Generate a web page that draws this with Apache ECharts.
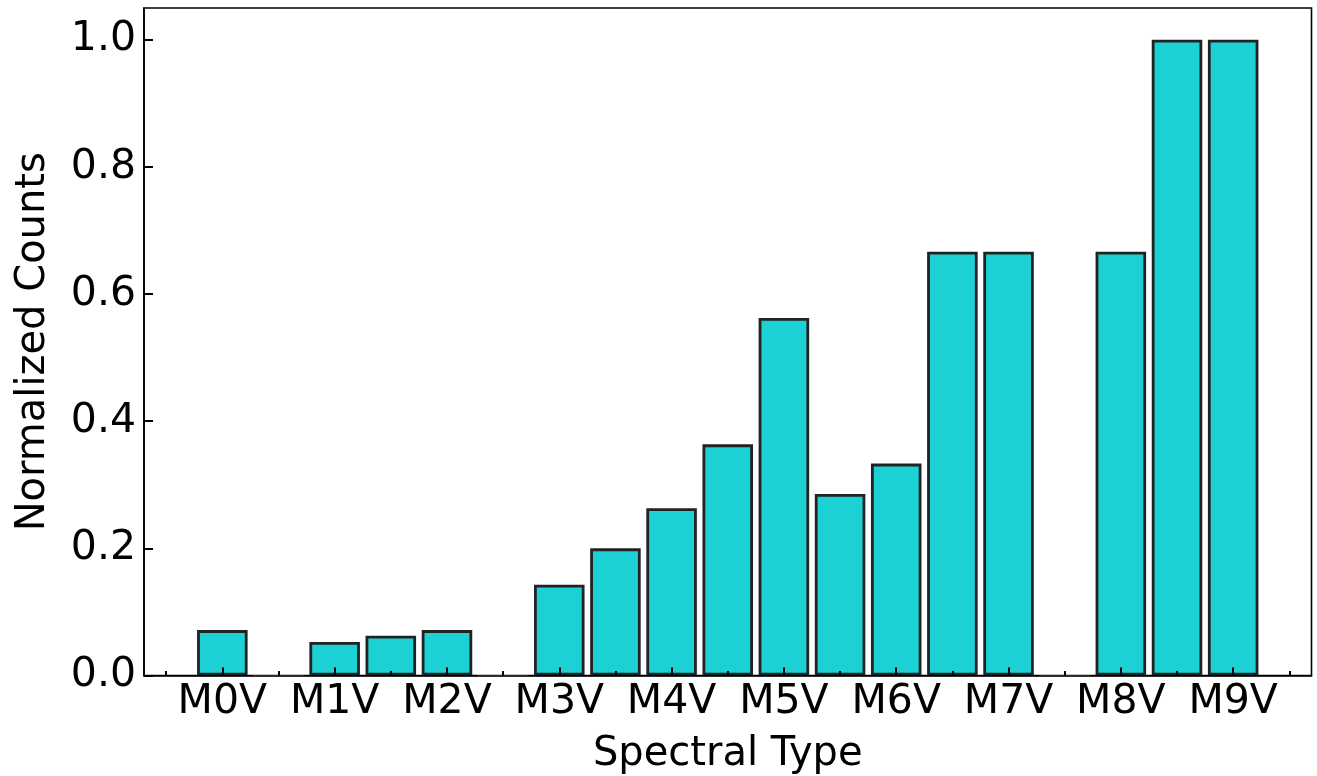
<!DOCTYPE html>
<html>
<head>
<meta charset="utf-8">
<title>Normalized Counts by Spectral Type</title>
<script src="https://cdn.jsdelivr.net/npm/echarts@6/dist/echarts.min.js"></script>
<style>
  html, body { margin: 0; padding: 0; background: #fff; }
  #chart { width: 1317px; height: 776px; }
</style>
</head>
<body>
<div id="chart"></div>
<script>
// M-dwarf subtypes in half-class steps (0 = M0V, 9 = M9V)
const subtypes = [0, 0.5, 1, 1.5, 2, 2.5, 3, 3.5, 4, 4.5, 5, 5.5, 6, 6.5, 7, 7.5, 8, 8.5, 9];
// normalized counts per subtype
const counts = [0.0714, 0, 0.0526, 0.0625, 0.0714, 0, 0.1429, 0.2, 0.2632, 0.3636,
                0.5625, 0.2857, 0.3333, 0.6667, 0.6667, 0, 0.6667, 1.0, 1.0];
// labelled classes on the x axis
const classTicks = [0, 1, 2, 3, 4, 5, 6, 7, 8, 9];
const classLabels = ['M0V', 'M1V', 'M2V', 'M3V', 'M4V', 'M5V', 'M6V', 'M7V', 'M8V', 'M9V'];
// half-class minor ticks
const halfTicks = [-0.5, 0.5, 1.5, 2.5, 3.5, 4.5, 5.5, 6.5, 7.5, 8.5, 9.5];
// y tick values
const yTicks = [0, 0.2, 0.4, 0.6, 0.8, 1.0];

const FONT = 'DejaVu Sans';
const X_MIN = -0.6975, X_MAX = 9.6975;
const GRID = { left: 144, right: 5.5, top: 8, bottom: 100.5 };
const WIDTH = 1317;
// bars span 0.45 class units
const BAR_UNITS = 0.45;
const barPx = BAR_UNITS * (WIDTH - GRID.left - GRID.right) / (X_MAX - X_MIN);

const chart = echarts.init(document.getElementById('chart'), null, { renderer: 'canvas' });

// empty subtypes only leave a faint outline on the baseline
const barData = subtypes.map((s, i) => counts[i] > 0
  ? [s, counts[i]]
  : { value: [s, counts[i]], itemStyle: { borderColor: '#b0b0b0', borderWidth: 1 } });

const option = {
  animation: false,
  backgroundColor: '#ffffff',
  grid: Object.assign({
    show: true, borderColor: '#000', borderWidth: 1.6, backgroundColor: 'transparent',
    containLabel: false, outerBoundsMode: 'none'
  }, GRID),
  xAxis: [
    {
      type: 'value', position: 'bottom', min: X_MIN, max: X_MAX, z: 10,
      name: 'Spectral Type', nameLocation: 'middle', nameGap: 59,
      nameTextStyle: { fontFamily: FONT, fontSize: 40, color: '#000' },
      axisLine: { show: true, onZero: false, lineStyle: { color: '#000', width: 1.6 } },
      axisTick: { show: true, inside: true, length: 8, customValues: classTicks,
                  lineStyle: { color: '#000', width: 2 } },
      axisLabel: {
        customValues: classTicks, margin: 6,
        fontFamily: FONT, fontSize: 41, color: '#000',
        formatter: v => classLabels[classTicks.indexOf(Math.round(v))] || ''
      },
      splitLine: { show: false }
    },
    {
      type: 'value', position: 'bottom', min: X_MIN, max: X_MAX, z: 10,
      axisLine: { show: false, onZero: false },
      axisTick: { show: true, inside: true, length: 4.5, customValues: halfTicks,
                  lineStyle: { color: '#000', width: 2 } },
      axisLabel: { show: false },
      splitLine: { show: false }
    }
  ],
  yAxis: {
    type: 'value', min: 0, max: 1.05, z: 10,
    name: 'Normalized Counts', nameLocation: 'middle', nameGap: 90,
    nameTextStyle: { fontFamily: FONT, fontSize: 40, color: '#000' },
    axisLine: { show: true, onZero: false, lineStyle: { color: '#000', width: 1.6 } },
    axisTick: { show: true, inside: true, length: 9, customValues: yTicks,
                lineStyle: { color: '#000', width: 2 } },
    axisLabel: {
      customValues: yTicks, margin: 8,
      fontFamily: FONT, fontSize: 41, color: '#000',
      formatter: v => v.toFixed(1)
    },
    splitLine: { show: false }
  },
  series: [{
    type: 'bar',
    xAxisIndex: 0,
    z: 2,
    data: barData,
    barWidth: barPx,
    itemStyle: { color: '#1bd1d4', borderColor: '#222222', borderWidth: 2.8 },
    emphasis: { disabled: true }
  }]
};

chart.setOption(option);
</script>
</body>
</html>
